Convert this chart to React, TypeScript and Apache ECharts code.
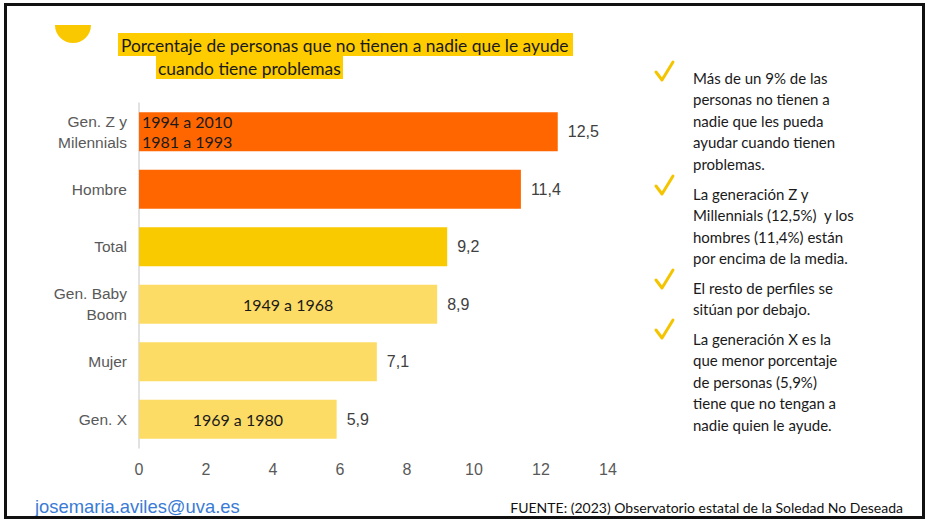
import React, { useEffect, useRef } from "react";
import * as echarts from "echarts";

const categories = ["Gen. Z y\nMilennials", "Hombre", "Total", "Gen. Baby\nBoom", "Mujer", "Gen. X"];
const values = [12.5, 11.4, 9.2, 8.9, 7.1, 5.9];
const barColors = ["#FF6600", "#FF6600", "#F9CA00", "#FDDC66", "#FDDC66", "#FDDC66"];
const innerLabels = ["1994 a 2010\n1981 a 1993", "", "", "1949 a 1968", "", "1969 a 1980"];
const titleLines = ["Porcentaje de personas que no tienen a nadie que le ayude", "cuando tiene problemas"];
const notes = [
  ["Más de un 9% de las", "personas no tienen a", "nadie que les pueda", "ayudar cuando tienen", "problemas."],
  ["La generación Z y", "Millennials (12,5%)  y los", "hombres (11,4%) están", "por encima de la media."],
  ["El resto de perfiles se", "sitúan por debajo."],
  ["La generación X es la", "que menor porcentaje", "de personas (5,9%)", "tiene que no tengan a", "nadie quien le ayude."],
];
const footerLeft = "josemaria.aviles@uva.es";
const footerRight = "FUENTE: (2023) Observatorio estatal de la Soledad No Deseada";

export default function App() {
  const ref = useRef<HTMLDivElement>(null);
  useEffect(() => {
    if (!ref.current) return;
    const chart = echarts.init(ref.current, null, { renderer: "svg" });
    const noteFont = "Lato, 'Open Sans', sans-serif";
    const graphics: any[] = [
      {
        type: "rect",
        shape: { x: 5.5, y: 4.5, width: 918, height: 513 },
        style: { fill: "none", stroke: "#111", lineWidth: 3 },
        z: 10,
      },
      {
        type: "sector",
        shape: { cx: 73, cy: 25, r0: 0, r: 18, startAngle: 0, endAngle: Math.PI },
        style: { fill: "#F9C800" },
      },
      { type: "rect", shape: { x: 118, y: 33, width: 455, height: 23 }, style: { fill: "#FFCC00" } },
      { type: "rect", shape: { x: 156, y: 56, width: 187, height: 23 }, style: { fill: "#FFCC00" } },
      {
        type: "text",
        x: 121,
        y: 45,
        style: { text: titleLines[0], font: "17.4px " + noteFont, fill: "#1a1a1a", verticalAlign: "middle" },
      },
      {
        type: "text",
        x: 158,
        y: 68,
        style: { text: titleLines[1], font: "17.4px " + noteFont, fill: "#1a1a1a", verticalAlign: "middle" },
      },
      {
        type: "text",
        x: 35,
        y: 506,
        style: { text: footerLeft, font: "18.4px 'Liberation Sans', Arial, sans-serif", fill: "#3A7BD5", verticalAlign: "middle" },
      },
      {
        type: "text",
        x: 903,
        y: 507,
        style: { text: footerRight, font: "14px " + noteFont, fill: "#111", align: "right", verticalAlign: "middle" },
      },
    ];
    const blockStarts = [78, 194, 288, 339];
    const checkYs = [72, 186, 280, 330];
    const lh = 21.4;
    notes.forEach((lines, i) => {
      graphics.push({
        type: "text",
        x: 693,
        y: blockStarts[i] - lh / 2,
        style: {
          text: lines.join("\n"),
          font: "15px " + noteFont,
          lineHeight: lh,
          fill: "#1a1a1a",
          verticalAlign: "top",
        },
      });
      const cy = checkYs[i];
      graphics.push({
        type: "polyline",
        shape: { points: [[656, cy], [662, cy + 8], [673, cy - 10]] },
        style: { stroke: "#F5C400", lineWidth: 3, fill: "none", lineCap: "round", lineJoin: "round" },
      });
    });

    chart.setOption({
      animation: false,
      backgroundColor: "#ffffff",
      grid: { left: 139, right: 318, top: 103, bottom: 72, containLabel: false },
      xAxis: {
        type: "value",
        min: 0,
        max: 14,
        interval: 2,
        axisLine: { show: false },
        axisTick: { show: false },
        splitLine: { show: false },
        axisLabel: { color: "#595959", fontSize: 16, fontFamily: "'Liberation Sans', Arial, sans-serif", margin: 13 },
      },
      yAxis: {
        type: "category",
        inverse: true,
        data: categories,
        axisLine: { show: true, lineStyle: { color: "#D9D9D9", width: 1.5 } },
        axisTick: { show: false },
        axisLabel: {
          color: "#595959",
          fontSize: 15.5,
          fontFamily: "'Liberation Sans', Arial, sans-serif",
          margin: 12,
          lineHeight: 21,
          align: "right",
        },
      },
      series: [
        {
          type: "bar",
          barCategoryGap: "32%",
          data: values.map((v, i) => ({ value: v, itemStyle: { color: barColors[i] } })),
          label: {
            show: true,
            position: "right",
            distance: 10,
            color: "#404040",
            fontSize: 16,
            fontFamily: "'Liberation Sans', Arial, sans-serif",
            formatter: (p: any) => String(p.value).replace(".", ","),
          },
        },
        {
          type: "bar",
          barGap: "-100%",
          barCategoryGap: "32%",
          silent: true,
          data: values.map((v, i) => ({
            value: v,
            itemStyle: { color: "transparent" },
            label: {
              show: innerLabels[i] !== "",
              position: i === 0 ? "insideLeft" : "inside",
              distance: 3,
              formatter: innerLabels[i],
              color: "#1a1a1a",
              fontSize: 16,
              lineHeight: 20,
              fontFamily: noteFont,
              align: i === 0 ? "left" : "center",
            },
          })),
        },
      ],
      graphic: graphics,
    });
    return () => chart.dispose();
  }, []);
  return <div ref={ref} style={{ position: "fixed", left: 0, top: 0, width: 926, height: 520 }} />;
}
